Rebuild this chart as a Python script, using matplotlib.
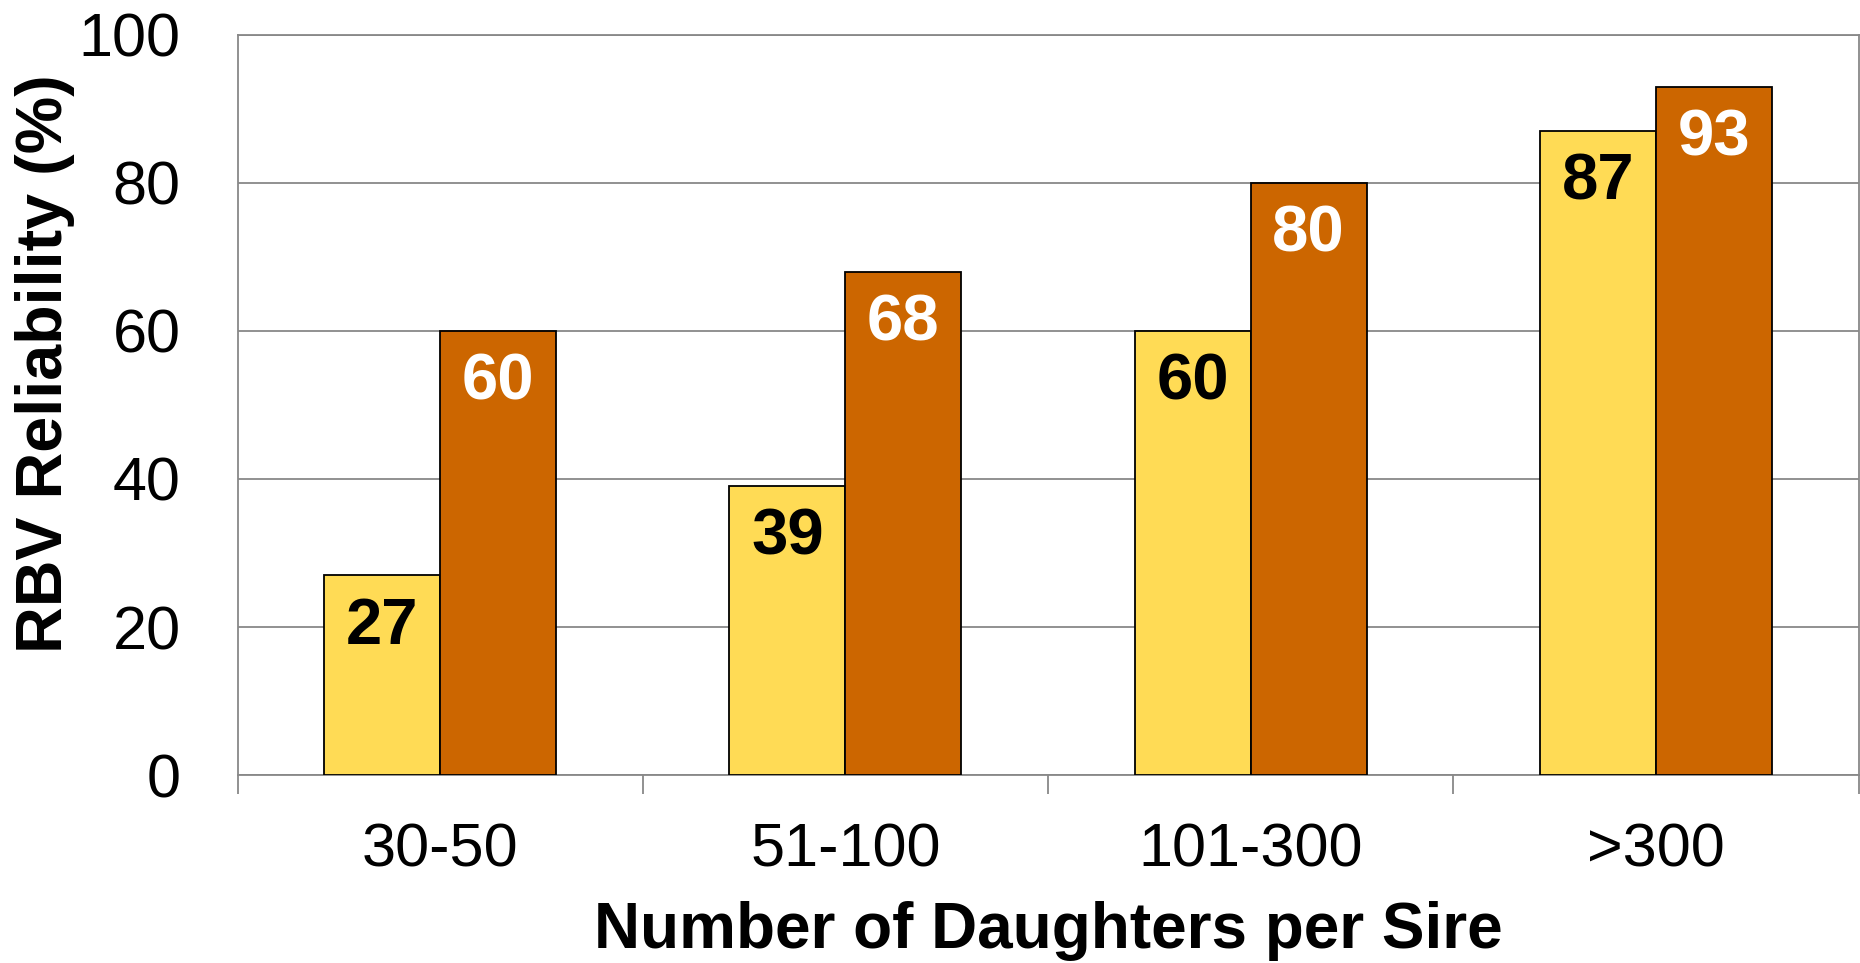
import numpy as np
import matplotlib.pyplot as plt

plt.rcParams['font.family'] = ['Liberation Sans', 'DejaVu Sans']

groups = ['30-50', '51-100', '101-300', '>300']
rel_low = [27, 39, 60, 87]
rel_high = [60, 68, 80, 93]

fig = plt.figure(figsize=(18.6, 9.63), dpi=100)
ax = fig.add_axes([0.1277, 0.1952, 0.8715, 0.7685])

x = np.arange(len(groups))
w = 0.286
b1 = ax.bar(x - w / 2, rel_low, w, color='#FFDB55', edgecolor='black', linewidth=1.3, zorder=3)
b2 = ax.bar(x + w / 2, rel_high, w, color='#CC6600', edgecolor='black', linewidth=1.3, zorder=3)

for bars, vals, col in [(b1, rel_low, 'black'), (b2, rel_high, 'white')]:
    for r, v in zip(bars, vals):
        ax.annotate(str(v), (r.get_x() + r.get_width() / 2, v), xytext=(0, -37),
                    textcoords='offset points', ha='center', va='center',
                    fontsize=47, fontweight='bold', color=col, zorder=4)

ax.set_xlim(-0.5, 3.5)
ax.set_ylim(0, 100)
ax.set_yticks(range(0, 101, 20))
# group separators as major ticks, category names on minor ticks
ax.set_xticks(np.arange(-0.5, 4, 1), minor=False)
ax.set_xticklabels([])
ax.set_xticks(x, minor=True)
ax.set_xticklabels(groups, minor=True)
ax.tick_params(axis='x', which='major', length=14, width=1.3, color='#888888')
ax.tick_params(axis='x', which='minor', length=0, pad=34, labelsize=44)
ax.tick_params(axis='y', length=0, pad=41, labelsize=44)
ax.grid(axis='y', color='#888888', linewidth=1.3, zorder=0)
for s in ax.spines.values():
    s.set_color('#888888')
    s.set_linewidth(1.3)

ax.set_xlabel('Number of Daughters per Sire', fontsize=46, fontweight='bold', va='center')
ax.set_ylabel('RBV Reliability (%)', fontsize=46.5, fontweight='bold', va='center')
ax.xaxis.set_label_coords(0.5, -0.211)
ax.yaxis.set_label_coords(-0.1187, 0.556)

fig.savefig('out.png')
